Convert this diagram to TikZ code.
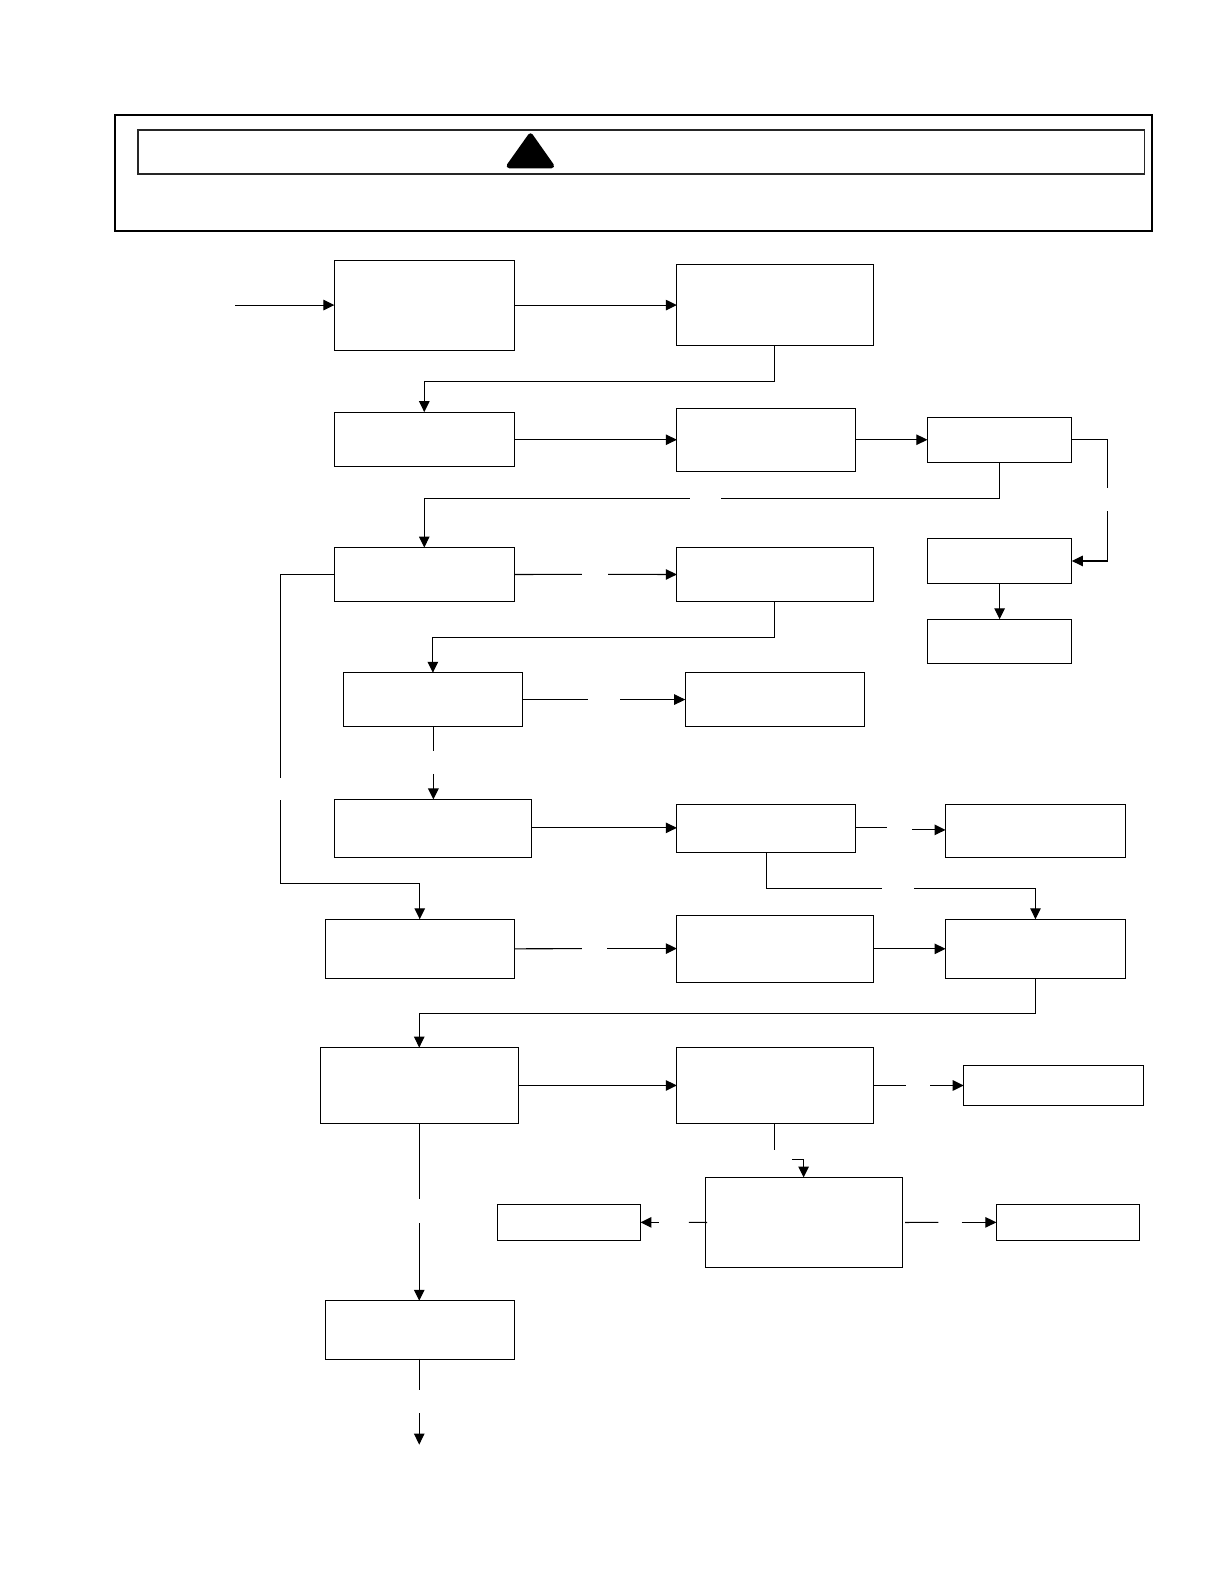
\documentclass[tikz,border=0pt]{standalone}
\usetikzlibrary{arrows.meta}
\tikzset{
  bx/.style={draw=black,line width=1.1pt,fill=white,inner sep=0pt,outer sep=0pt,rectangle},
  ln/.style={draw=black,line width=1.1pt},
  tip/.style={ln,-{Triangle[length=11pt,width=10.5pt]}},
  outerframe/.style={draw=black,line width=2pt,inner sep=0pt,outer sep=0pt,rectangle},
  innerframe/.style={draw=black!85,line width=1.8pt,inner sep=0pt,outer sep=0pt,rectangle},
}
\newcommand\bxnode[6][bx]{%
  \pgfmathsetmacro\bxw{(#5-#3)*1.0102}\pgfmathsetmacro\bxh{(#6-#4)*1.0102}%
  \pgfmathsetmacro\bxx{(#3+#5)/2}\pgfmathsetmacro\bxy{(#4+#6)/2}%
  \node[#1,minimum width=\bxw pt,minimum height=\bxh pt] (#2) at (\bxx,\bxy) {};}
\begin{document}
\begin{tikzpicture}[x=1.0102pt,y=-1.0102pt]
\useasboundingbox (0,0) rectangle (1211.64,1568);
\bxnode[outerframe]{frame}{114}{114}{1140.5}{229}
\bxnode[innerframe]{banner}{136.4}{129}{1133}{172}
\fill[black,draw=black,line width=5pt,line join=round] (525.1,134.4) -- (504,164.1) -- (546,164.1) -- cycle;
\bxnode{a}{331}{258}{509}{347}
\bxnode{b}{670}{262}{865}{342}
\bxnode{c}{331}{408}{509}{461.6}
\bxnode{d}{670}{404}{847}{466.6}
\bxnode{e}{918}{413}{1061}{458}
\bxnode{f}{918}{533}{1061}{577.6}
\bxnode{g}{918}{613}{1061}{656.6}
\bxnode{h}{331}{542}{509}{595.4}
\bxnode{i}{670}{542}{865}{595.4}
\bxnode{j}{340}{666}{517}{719}
\bxnode{k}{678.3}{666}{856}{719}
\bxnode{l}{331}{791.4}{526}{849}
\bxnode{m}{670}{796}{847}{844}
\bxnode{n}{936}{796}{1114}{849}
\bxnode{o}{322}{910}{509}{968.5}
\bxnode{p}{670}{906}{865}{972.4}
\bxnode{q}{936}{910}{1114}{968.5}
\bxnode{r}{317}{1037}{513}{1112}
\bxnode{s}{670}{1037}{865}{1112}
\bxnode{t}{954}{1055}{1132}{1094}
\bxnode{u}{698}{1165.6}{893}{1254.6}
\bxnode{v}{492.3}{1192}{634}{1228}
\bxnode{w}{986.3}{1192}{1128}{1228}
\bxnode{x}{322}{1287.6}{509}{1345.6}
% free ends
\coordinate (start) at (233,302);
\coordinate (eg1) at (1096,483); \coordinate (eg2) at (1096,506);
\coordinate (hg1) at (683,493.3); \coordinate (hg2) at (714,493.3);
\coordinate (hi1) at (576,568.5); \coordinate (hi2) at (602,568.5);
\coordinate (hw1) at (277.4,770); \coordinate (hw2) at (277.4,792);
\coordinate (jk1) at (582,692.5); \coordinate (jk2) at (614,692.5);
\coordinate (jl1) at (429,743); \coordinate (jl2) at (429,766);
\coordinate (mn1) at (878,819.5); \coordinate (mn2) at (903,821.5);
\coordinate (mq1) at (873,879.3); \coordinate (mq2) at (905,879.3);
\coordinate (op1) at (576,939); \coordinate (op2) at (601,939);
\coordinate (st1) at (897,1074.5); \coordinate (st2) at (921,1074.5);
\coordinate (bs) at (767,342); \coordinate (is) at (767,595);
\coordinate (su0) at (767,1112);
\coordinate (su1) at (767,1138); \coordinate (su2) at (784,1148);
\coordinate (uv1) at (682,1210); \coordinate (uv2) at (652,1210);
\coordinate (uw1) at (929,1210); \coordinate (uw2) at (952,1210);
\coordinate (rx1) at (415,1187); \coordinate (rx2) at (415,1211);
\coordinate (xe0) at (415,1345);
\coordinate (xe1) at (415,1376); \coordinate (xe2) at (415,1399); \coordinate (xe3) at (415,1430);
\coordinate (hwc) at (415.5,874.3);
% connectors
\draw[tip] (start) -- (a.west |- start);
\draw[tip] (a.east |- b.west) -- (b.west);
\draw[tip] (bs) -- ++(0,35.5) -| (c.north);
\draw[tip] (c.east |- d.west) -- (d.west);
\draw[tip] (d.east) -- (e.west |- d.east);
\draw[ln] (e.east) -| (eg1);
\draw[tip] (eg2) |- (f.east);
\draw[ln] (e.south) |- (hg2);
\draw[tip] (hg1) -| (h.north);
\draw[tip] (f.south) -- (g.north);
\draw[ln] (h.east) -- (hi1);
\draw[tip] (hi2) -- (i.west);
\draw[ln] (h.west) -| (hw1);
\draw[tip] (hw2) |- (hwc) -- (o.north);
\draw[tip] (is) -- ++(0,36) -| (j.north);
\draw[ln] (j.east) -- (jk1);
\draw[tip] (jk2) -- (k.west);
\draw[ln] (jl1 |- j.south) -- (jl1);
\draw[tip] (jl2) -- (l.north -| jl2);
\draw[tip] (l.east |- 0,819.5) -- (m.west |- 0,819.5);
\draw[ln] (m.east |- mn1) -- (mn1);
\draw[tip] (mn2) -- (n.west |- mn2);
\draw[ln] (m.south) |- (mq1);
\draw[tip] (mq2) -| (q.north);
\draw[ln] (o.east) -- (op1);
\draw[tip] (op2) -- (p.west |- op2);
\draw[tip] (p.east |- q.west) -- (q.west);
\draw[tip] (q.south) -- ++(0,35) -| (r.north);
\draw[tip] (r.east |- s.west) -- (s.west);
\draw[ln] (s.east) -- (st1);
\draw[tip] (st2) -- (t.west |- st2);
\draw[ln] (su0) -- (su1);
\draw[tip] (su2) -| (u.north);
\draw[ln] (u.west) ++(2,0) -- (uv1);
\draw[tip] (uv2) -- (v.east |- uv2);
\draw[ln] (u.east) ++(3,0) -- (uw1);
\draw[tip] (uw2) -- (w.west |- uw2);
\draw[ln] (r.south) -- (rx1);
\draw[tip] (rx2) -- (x.north -| rx2);
\draw[ln] (xe0) -- (xe1);
\draw[tip] (xe2) -- (xe3);
\end{tikzpicture}
\end{document}
